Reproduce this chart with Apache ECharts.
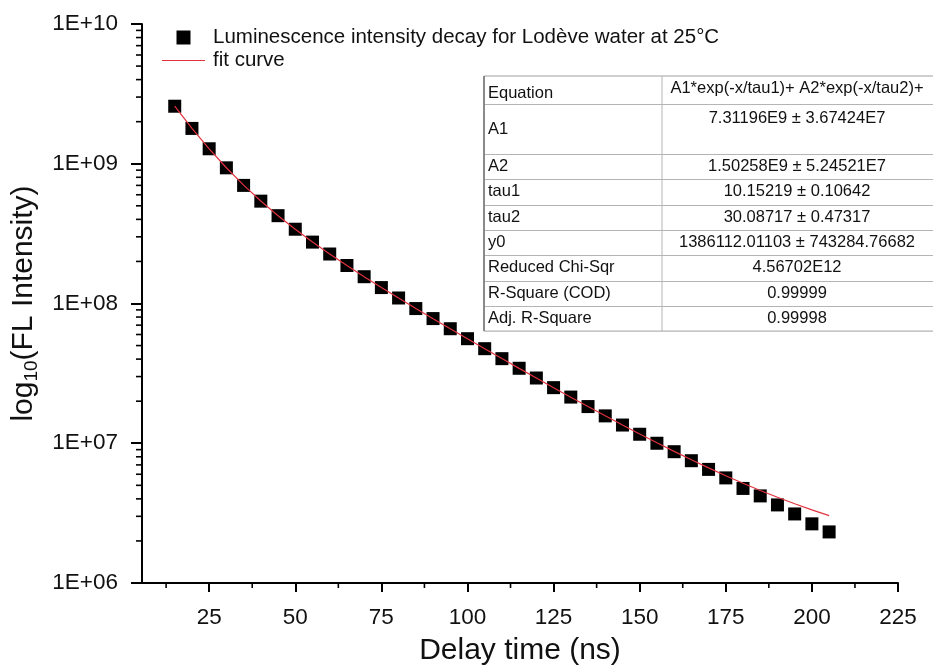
<!DOCTYPE html>
<html>
<head>
<meta charset="utf-8">
<script src="https://cdn.jsdelivr.net/npm/echarts@6/dist/echarts.min.js"></script>
<style>html,body{margin:0;padding:0;background:#fff}#chart{width:933px;height:672px}</style>
</head>
<body>
<div id="chart"></div>
<script>
const delayTimes = [15,20,25,30,35,40,45,50,55,60,65,70,75,80,85,90,95,100,105,110,115,120,125,130,135,140,145,150,155,160,165,170,175,180,185,190,195,200,205];
const intensity = [2.58e9,1.79e9,1.28e9,9.35e8,7.0e8,5.4e8,4.25e8,3.4e8,2.75e8,2.26e8,1.87e8,1.555e8,1.30e8,1.095e8,9.2e7,7.8e7,6.6e7,5.6e7,4.75e7,4.03e7,3.44e7,2.93e7,2.5e7,2.14e7,1.83e7,1.57e7,1.35e7,1.16e7,1.0e7,8.7e6,7.5e6,6.5e6,5.65e6,4.75e6,4.2e6,3.62e6,3.12e6,2.65e6,2.32e6];
const fitCurve = [2.583e9,1.794e9,1.279e9,9.365e8,7.036e8,5.412e8,4.250e8,3.397e8,2.754e8,2.257e8,1.867e8,1.555e8,1.301e8,1.094e8,9.218e7,7.788e7,6.592e7,5.589e7,4.745e7,4.034e7,3.435e7,2.928e7,2.499e7,2.137e7,1.831e7,1.571e7,1.351e7,1.166e7,1.008e7,8.752e6,7.624e6,6.669e6,5.860e6,5.175e6,4.595e6,4.104e6,3.688e6,3.335e6,3.037e6];
const xTickValues = [25,50,75,100,125,150,175,200,225];
const xMinorTickValues = [12.5,37.5,62.5,87.5,112.5,137.5,162.5,187.5,212.5];
const yMinorTickValues = [2e6,3e6,4e6,5e6,6e6,7e6,8e6,9e6,2e7,3e7,4e7,5e7,6e7,7e7,8e7,9e7,2e8,3e8,4e8,5e8,6e8,7e8,8e8,9e8,2e9,3e9,4e9,5e9,6e9,7e9,8e9,9e9];
const seriesNames = ['Luminescence intensity decay for Lodève water at 25°C', 'fit curve'];
const tableLabels = ['Equation','A1','A2','tau1','tau2','y0','Reduced Chi-Sqr','R-Square (COD)','Adj. R-Square'];
const tableValues = ['A1*exp(-x/tau1)+ A2*exp(-x/tau2)+','7.31196E9 ± 3.67424E7','1.50258E9 ± 5.24521E7','10.15219 ± 0.10642','30.08717 ± 0.47317','1386112.01103 ± 743284.76682','4.56702E12','0.99999','0.99998'];

const X_MIN = 5.5, X_MAX = 225;
const FONT = 'Liberation Sans, Arial, sans-serif';

// table layout
const tbl = {left: 484, top: 76, right: 940, split: 662, rowH: [28, 50, 25.3, 25.3, 25.3, 25.3, 25.3, 25.3, 25.3]};
const tableEls = [];
let yy = tbl.top;
tableEls.push({type:'rect', shape:{x:tbl.left, y:tbl.top, width:tbl.right-tbl.left, height:tbl.rowH.reduce((a,b)=>a+b,0)}, style:{fill:'#fff', stroke:'#a0a0a0', lineWidth:1}});
tableLabels.forEach((lab, i) => {
  const h = tbl.rowH[i];
  if (i > 0) tableEls.push({type:'line', shape:{x1:tbl.left, y1:Math.round(yy)+0.5, x2:tbl.right, y2:Math.round(yy)+0.5}, style:{stroke:'#b4b4b4', lineWidth:1}});
  tableEls.push({type:'text', x: tbl.left + 4, y: yy + h/2 + (i===0?3:0), style:{text: lab, font: '16.5px ' + FONT, fill:'#111', verticalAlign:'middle', align:'left'}});
  const vy = (i === 0) ? yy + 12 : (i === 1 ? yy + 14 : yy + h/2);
  tableEls.push({type:'text', x: (tbl.split + 932)/2, y: vy, style:{text: tableValues[i], font: '16.5px ' + FONT, fill:'#111', verticalAlign:'middle', align:'center'}});
  yy += h;
});
tableEls.push({type:'line', shape:{x1:tbl.split, y1:tbl.top, x2:tbl.split, y2:yy}, style:{stroke:'#b4b4b4', lineWidth:1}});
tableEls.push({type:'line', shape:{x1:tbl.left, y1:tbl.top, x2:tbl.left, y2:yy}, style:{stroke:'#8a8a8a', lineWidth:2}});

const chart = echarts.init(document.getElementById('chart'), null, {renderer:'canvas'});
chart.setOption({
  backgroundColor: '#fff',
  animation: false,
  textStyle: {fontFamily: FONT},
  grid: {left: 142, right: 35, top: 24, bottom: 89, containLabel: false},
  legend: {
    left: 162, top: 27, padding: 0, orient: 'vertical', itemWidth: 43, itemHeight: 14, itemGap: 2,
    textStyle: {fontSize: 20.5, color: '#111', fontFamily: FONT, padding:[0,0,0,3]},
    data: [
      {name: seriesNames[0], icon: 'path://M0,0 L10,0 L10,10 L0,10 Z'},
      {name: seriesNames[1], icon: 'path://M0,0 L43,0 L43,1.2 L0,1.2 Z'}
    ]
  },
  xAxis: {
    type: 'value', min: X_MIN, max: X_MAX,
    name: 'Delay time (ns)', nameLocation: 'middle', nameGap: 53,
    nameTextStyle: {fontSize: 30, color: '#111', fontFamily: FONT},
    axisLine: {show: true, onZero: false, lineStyle: {color: '#000', width: 2}},
    axisTick: {show: true, customValues: xTickValues, length: 9, lineStyle: {color: '#000', width: 2}},
    axisLabel: {customValues: xTickValues, fontSize: 22.5, color: '#111', margin: 23, fontFamily: FONT},
    splitLine: {show: false}
  },
  yAxis: {
    type: 'log', logBase: 10, min: 1e6, max: 1e10,
    name: '{a|log}{s|10}{a|(FL Intensity)}', nameLocation: 'middle', nameGap: 96,
    nameTextStyle: {color: '#111', fontFamily: FONT, rich: {
      a: {fontSize: 30, lineHeight: 36, fontFamily: FONT, color: '#111'},
      s: {fontSize: 19, lineHeight: 19, verticalAlign: 'bottom', fontFamily: FONT, color: '#111'}
    }},
    axisLine: {show: true, onZero: false, lineStyle: {color: '#000', width: 2}},
    axisTick: {show: true, length: 11, lineStyle: {color: '#000', width: 2}},
    axisLabel: {fontSize: 22.5, color: '#111', margin: 24, fontFamily: FONT,
      formatter: v => '1E+' + String(Math.round(Math.log10(v))).padStart(2, '0')},
    splitLine: {show: false},
    minorTick: {show: false}
  },
  series: [
    {
      name: seriesNames[0], type: 'scatter', symbol: 'rect', symbolSize: 13,
      itemStyle: {color: '#000', opacity: 1}, z: 3,
      data: delayTimes.map((t, i) => [t, intensity[i]])
    },
    {
      name: seriesNames[1], type: 'line', showSymbol: false, symbol: 'none', smooth: false,
      lineStyle: {color: '#e2333f', width: 1.2}, itemStyle: {color: '#e2333f'}, z: 4,
      data: delayTimes.map((t, i) => [t, fitCurve[i]])
    },
    {
      type: 'custom', silent: true, clip: false, z: 5,
      data: yMinorTickValues.map(v => [X_MIN, v]),
      renderItem: (params, api) => {
        const p = api.coord([api.value(0), api.value(1)]);
        return {type: 'line', shape: {x1: p[0] - 6, y1: p[1], x2: p[0], y2: p[1]}, style: {stroke: '#000', lineWidth: 1.6}};
      }
    },
    {
      type: 'custom', silent: true, clip: false, z: 5,
      data: xMinorTickValues.map(v => [v, 1e6]),
      renderItem: (params, api) => {
        const p = api.coord([api.value(0), api.value(1)]);
        return {type: 'line', shape: {x1: p[0], y1: p[1], x2: p[0], y2: p[1] + 5}, style: {stroke: '#000', lineWidth: 1.6}};
      }
    }
  ],
  graphic: [{type: 'group', z: 10, children: tableEls}]
});
</script>
</body>
</html>
